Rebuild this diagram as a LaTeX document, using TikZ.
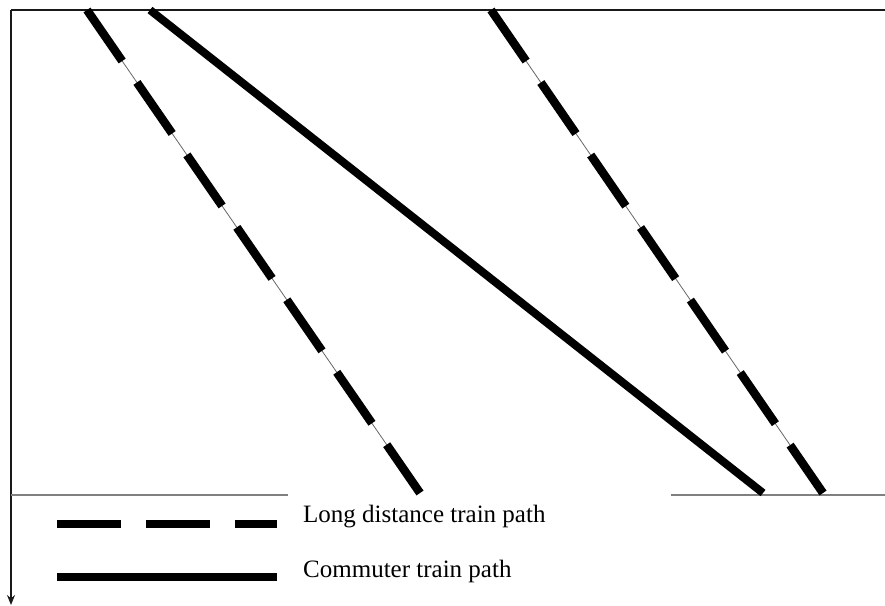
\documentclass[tikz,border=0pt]{standalone}
\usepackage{fontspec}
\setmainfont{Liberation Serif}
\usetikzlibrary{arrows.meta}
\begin{document}
\begin{tikzpicture}[x=1pt,y=-1pt,
  axis/.style={line width=2.4pt,black!90},
  sep/.style={line width=1.5pt,black!50},
  thin/.style={line width=0.8pt,black!60},
  longpath/.style={line width=8.5pt,line cap=butt,dash pattern=on 62pt off 26pt},
  commpath/.style={line width=8pt,line cap=butt},
  lbl/.style={anchor=base west,inner sep=0pt,font=\fontsize{25}{28}\selectfont}]
\useasboundingbox (0,0) rectangle (885,605);
% axes
\coordinate (O) at (11,10);
\coordinate (TR) at (885,10);
\coordinate (B) at (11,605);
\draw[axis] (TR) -- (O);
\draw[axis,-{Stealth[length=10pt,width=8pt]}] (O) -- (B);
% separator
\coordinate (s1) at (11,495);
\coordinate (s2) at (288,495);
\coordinate (s3) at (671,495);
\coordinate (s4) at (885,495);
\draw[sep] (s1) -- (s2);
\draw[sep] (s3) -- (s4);
% train paths
\coordinate (a1) at (87,10);
\coordinate (a2) at (420,493);
\coordinate (c1) at (150,10);
\coordinate (c2) at (763,493);
\coordinate (b1) at (491,10);
\coordinate (b2) at (823,493);
\draw[thin] (a1) -- (a2);
\draw[longpath] (a1) -- (a2);
\draw[thin] (b1) -- (b2);
\draw[longpath] (b1) -- (b2);
\draw[commpath] (c1) -- (c2);
% legend
\coordinate (l1) at (57,524);
\coordinate (l2) at (277,524);
\coordinate (m1) at (57,577);
\coordinate (m2) at (277,577);
\draw[line width=8pt,line cap=butt,dash pattern=on 64pt off 25pt] (l1) -- (l2);
\draw[commpath] (m1) -- (m2);
\node[lbl] (t1) at (303,522) {Long distance train path};
\node[lbl] (t2) at (303,577) {Commuter train path};
\end{tikzpicture}
\end{document}
